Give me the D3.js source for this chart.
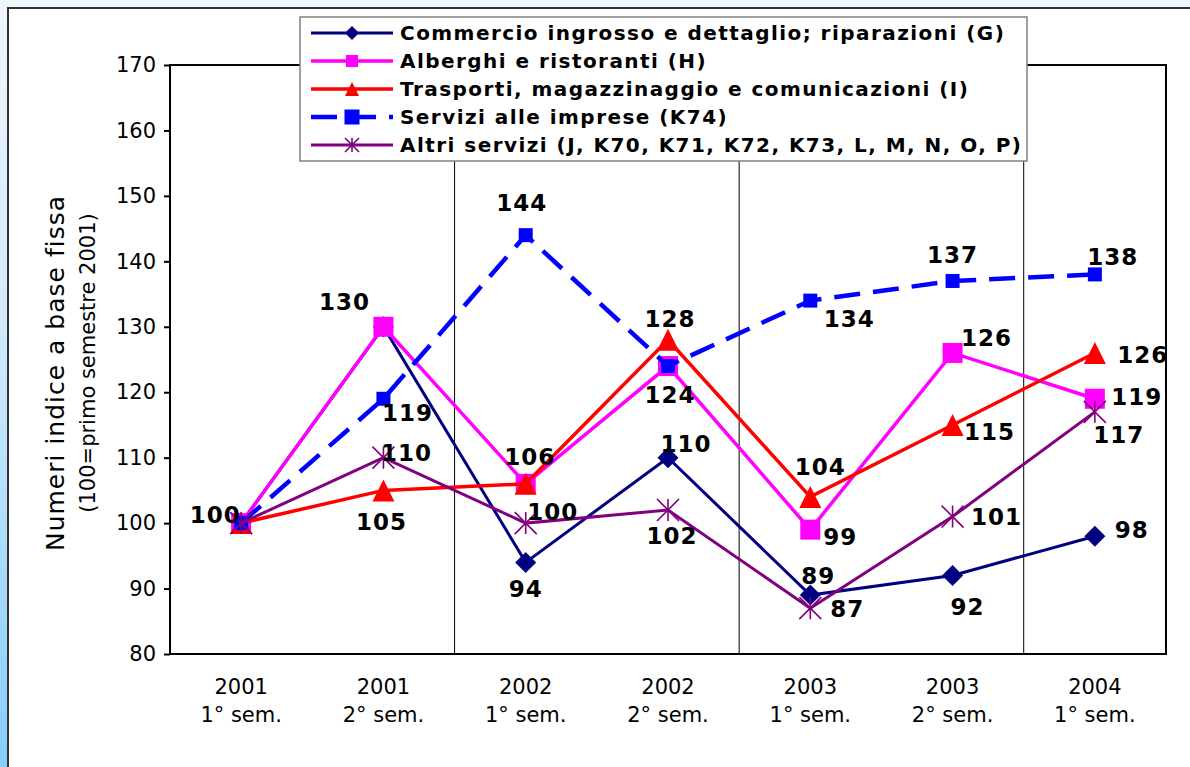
<!DOCTYPE html>
<html>
<head>
<meta charset="utf-8">
<script src="https://cdn.jsdelivr.net/npm/d3@7"></script>
<style>
  html, body { margin: 0; padding: 0; }
  body { width: 1190px; height: 767px; overflow: hidden; }
</style>
</head>
<body>
<div id="chart"></div>
<script>
// categories (two-line labels)
const years = ["2001", "2001", "2002", "2002", "2003", "2003", "2004"];
const semesters = ["1° sem.", "2° sem.", "1° sem.", "2° sem.", "1° sem.", "2° sem.", "1° sem."];

// series values
const commercio = [100, 130, 94, 110, 89, 92, 98];
const alberghi  = [100, 130, 106, 124, 99, 126, 119];
const trasporti = [100, 105, 106, 128, 104, 115, 126];
const servizi   = [100, 119, 144, 124, 134, 137, 138];
const altri     = [100, 110, 100, 102, 87, 101, 117];

const seriesNames = [
    "Commercio ingrosso e dettaglio; riparazioni (G)",
    "Alberghi e ristoranti (H)",
    "Trasporti, magazzinaggio e comunicazioni (I)",
    "Servizi alle imprese (K74)",
    "Altri servizi (J, K70, K71, K72, K73, L, M, N, O, P)"
];

const yTicks = [80, 90, 100, 110, 120, 130, 140, 150, 160, 170];

// where each data label sits relative to its point (null = no label)
const labelOffsets = [
    [[-26, -8], null, [0, 27], [18, -14], [8, -19], [15, 32], [37, -6]],
    [null, [-39, -25], null, null, [30, 7], [34, -15], [42, -2]],
    [null, [-2, 32], [4, -27], [2, -21], [10, -30], [37, 7], [48, 2]],
    [null, [24, 14], [-4, -32], [2, 29], [39, 18], [0, -26], [18, -17]],
    [null, [23, -5], [27, -11], [4, 26], [37, 1], [44, 0], [24, 23]]
];

const styles = [
    {color: "#000080", width: 3, dash: null, marker: "diamond", size: 21, legendSize: 14},
    {color: "#ff00ff", width: 3.5, dash: null, marker: "square", size: 20, legendSize: 12},
    {color: "#ff0000", width: 3.5, dash: null, marker: "triangle", size: 22, legendSize: 14},
    {color: "#0000ff", width: 4.5, dash: "26,13", marker: "square", size: 14, legendSize: 15},
    {color: "#800080", width: 3, dash: null, marker: "star", size: 22, legendSize: 14}
];

const seriesValues = [commercio, alberghi, trasporti, servizi, altri];

const width = 1190, height = 767;
const plot = {left: 170, top: 65, right: 1166, bottom: 654};
const font = "'DejaVu Sans', Verdana, sans-serif";

const svg = d3.select("#chart").append("svg")
    .attr("width", width)
    .attr("height", height);

// background
const defs = svg.append("defs");
const grad = defs.append("linearGradient")
    .attr("id", "bg").attr("x1", 0).attr("y1", 0).attr("x2", 0).attr("y2", 1);
grad.append("stop").attr("offset", "0%").attr("stop-color", "#eef6fd");
grad.append("stop").attr("offset", "45%").attr("stop-color", "#cfe9fc");
grad.append("stop").attr("offset", "100%").attr("stop-color", "#86cdfc");
svg.append("rect").attr("width", width).attr("height", height).attr("fill", "url(#bg)");
svg.append("rect")
    .attr("x", 8).attr("y", 8)
    .attr("width", width + 20).attr("height", height + 20)
    .attr("fill", "#ffffff")
    .attr("stroke", "#333333")
    .attr("stroke-width", 2);

const x = d3.scaleBand()
    .domain(d3.range(years.length))
    .range([plot.left, plot.right])
    .padding(0);

const y = d3.scaleLinear()
    .domain([80, 170])
    .range([plot.bottom, plot.top]);

function cx(i) { return x(i) + x.bandwidth() / 2; }

// separators every two semesters
svg.append("g")
    .selectAll("line")
    .data([2, 4, 6])
    .enter()
    .append("line")
    .attr("x1", function(d) { return x(d); })
    .attr("x2", function(d) { return x(d); })
    .attr("y1", plot.top)
    .attr("y2", plot.bottom)
    .style("stroke", "#000")
    .style("stroke-width", 1);

// plot frame
svg.append("rect")
    .attr("x", plot.left).attr("y", plot.top)
    .attr("width", plot.right - plot.left)
    .attr("height", plot.bottom - plot.top)
    .attr("fill", "none")
    .attr("stroke", "#000")
    .attr("stroke-width", 2);

// y axis
const yAxis = svg.append("g")
    .attr("transform", "translate(" + plot.left + ",0)")
    .call(d3.axisLeft(y).tickValues(yTicks).tickSize(6).tickPadding(8));
yAxis.select(".domain").remove();
yAxis.selectAll(".tick line").style("stroke", "#000").style("stroke-width", 2);
yAxis.selectAll(".tick text")
    .style("font-family", font)
    .style("font-size", "21px")
    .style("fill", "#000");

// x labels
const xl = svg.append("g").selectAll("text")
    .data(years)
    .enter()
    .append("text")
    .attr("x", function(d, i) { return cx(i); })
    .attr("text-anchor", "middle")
    .style("font-family", font)
    .style("font-size", "21px")
    .style("fill", "#000");
xl.append("tspan").attr("x", function(d, i) { return cx(i); }).attr("y", 694).text(function(d) { return d; });
xl.append("tspan").attr("x", function(d, i) { return cx(i); }).attr("y", 722).text(function(d, i) { return semesters[i]; });

// y title
svg.append("text")
    .attr("transform", "translate(64,373) rotate(-90)")
    .attr("text-anchor", "middle")
    .style("font-family", font)
    .style("font-size", "25px")
    .style("letter-spacing", "1px")
    .text("Numeri indice a base fissa");
svg.append("text")
    .attr("transform", "translate(95,363) rotate(-90)")
    .attr("text-anchor", "middle")
    .style("font-family", font)
    .style("font-size", "21px")
    .text("(100=primo semestre 2001)");

function markerPath(type, s) {
    const h = s / 2;
    if (type === "diamond") return "M0," + (-h) + "L" + h + ",0L0," + h + "L" + (-h) + ",0Z";
    if (type === "square") return "M" + (-h) + "," + (-h) + "h" + s + "v" + s + "h" + (-s) + "Z";
    if (type === "triangle") return "M0," + (-h) + "L" + h + "," + h + "L" + (-h) + "," + h + "Z";
    // asterisk: vertical bar plus an X
    return "M0," + (-h) + "V" + h + "M" + (-h) + "," + (-h) + "L" + h + "," + h + "M" + h + "," + (-h) + "L" + (-h) + "," + h;
}

function drawMarker(g, st, size) {
    const p = g.append("path").attr("d", markerPath(st.marker, size));
    if (st.marker === "star") {
        p.attr("fill", "none").attr("stroke", st.color).attr("stroke-width", 1.6);
    } else {
        p.attr("fill", st.color).attr("stroke", "none");
    }
}

const line = d3.line()
    .x(function(d, i) { return cx(i); })
    .y(function(d) { return y(d); });

seriesValues.forEach(function(vals, s) {
    const st = styles[s];
    const g = svg.append("g");
    g.append("path")
        .datum(vals)
        .attr("d", line)
        .attr("fill", "none")
        .attr("stroke", st.color)
        .attr("stroke-width", st.width)
        .attr("stroke-dasharray", st.dash)
        .attr("stroke-linejoin", "miter");
    vals.forEach(function(v, i) {
        const m = g.append("g").attr("transform", "translate(" + cx(i) + "," + y(v) + ")");
        drawMarker(m, st, st.size);
    });
});

// data labels on top
seriesValues.forEach(function(vals, s) {
    vals.forEach(function(v, i) {
        const off = labelOffsets[s][i];
        if (!off) return;
        svg.append("text")
            .attr("x", cx(i) + off[0])
            .attr("y", y(v) + off[1])
            .attr("text-anchor", "middle")
            .attr("dominant-baseline", "central")
            .style("font-family", font)
            .style("font-weight", "bold")
            .style("font-size", "23px")
            .style("letter-spacing", "1px")
            .style("fill", "#000")
            .text(v);
    });
});

// legend
const legend = svg.append("g");
legend.append("rect")
    .attr("x", 300).attr("y", 17)
    .attr("width", 727).attr("height", 144)
    .attr("fill", "#fff")
    .attr("stroke", "#808080")
    .attr("stroke-width", 1.5);
seriesNames.forEach(function(name, s) {
    const st = styles[s];
    const ly = 33 + s * 28;
    legend.append("line")
        .attr("x1", 311).attr("x2", 393)
        .attr("y1", ly).attr("y2", ly)
        .attr("stroke", st.color)
        .attr("stroke-width", st.width)
        .attr("stroke-dasharray", st.dash ? "26,13" : null);
    const m = legend.append("g").attr("transform", "translate(352," + ly + ")");
    drawMarker(m, st, st.legendSize);
    legend.append("text")
        .attr("x", 400).attr("y", ly)
        .attr("dominant-baseline", "central")
        .style("font-family", font)
        .style("font-weight", "bold")
        .style("font-size", "20px")
        .style("letter-spacing", "1.45px")
        .text(name);
});
</script>
</body>
</html>
